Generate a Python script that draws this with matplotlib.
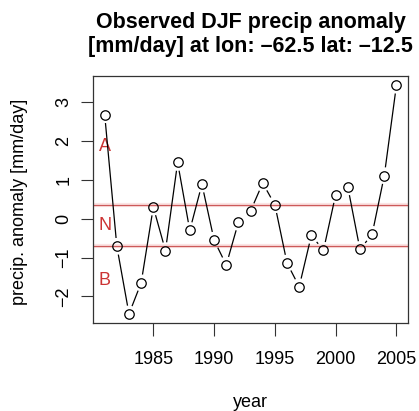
import numpy as np
import matplotlib
matplotlib.use("Agg")
import matplotlib.pyplot as plt

plt.rcParams["font.family"] = ["Liberation Sans", "DejaVu Sans"]

# observed DJF precipitation anomaly [mm/day]
years = np.arange(1981, 2006)
anomaly = [2.68, -0.71, -2.45, -1.65, 0.30, -0.82, 1.45, -0.30, 0.89, -0.55,
           -1.19, -0.09, 0.20, 0.92, 0.36, -1.14, -1.75, -0.43, -0.81, 0.62,
           0.82, -0.79, -0.40, 1.11, 3.44]

# tercile boundaries
upper_tercile = 0.36
lower_tercile = -0.71
cat_labels = ["A", "N", "B"]
cat_values = [1.87, -0.18, -1.60]

fig = plt.figure(figsize=(4.19, 4.11), dpi=100)
ax = fig.add_axes([0.222, 0.214, 0.752, 0.601])

# R style 4% range expansion
span_x = years[-1] - years[0]
ax.set_xlim(years[0] - 0.04 * span_x, years[-1] + 0.04 * span_x)
span_y = max(anomaly) - min(anomaly)
ax.set_ylim(min(anomaly) - 0.04 * span_y, max(anomaly) + 0.04 * span_y)

for yv in (upper_tercile, lower_tercile):
    ax.axhline(yv, color="#fbe4e4", linewidth=3.0, zorder=1)
    ax.axhline(yv, color="#cc5a5a", linewidth=0.9, zorder=2)

for lab, yv in zip(cat_labels, cat_values):
    ax.text(years[0], yv, lab, color="#cc3333", fontsize=13,
            ha="center", va="center", zorder=3)

# type = "b": segments with gaps around the points
fig.canvas.draw()
pts = ax.transData.transform(np.column_stack([years, anomaly]))
gap = 9.0
inv = ax.transData.inverted()
for p0, p1 in zip(pts[:-1], pts[1:]):
    d = p1 - p0
    dist = np.hypot(*d)
    if dist <= 2 * gap:
        continue
    u = d / dist
    seg = inv.transform(np.array([p0 + u * gap, p1 - u * gap]))
    ax.plot(seg[:, 0], seg[:, 1], color="black", linewidth=0.9, zorder=4)

ax.plot(years, anomaly, linestyle="none", marker="o", markersize=6.8,
        markerfacecolor="none", markeredgecolor="black", markeredgewidth=0.9,
        zorder=5)

ax.set_xticks([1985, 1990, 1995, 2000, 2005])
ax.set_yticks([-2, -1, 0, 1, 2, 3])
ax.tick_params(axis="both", direction="out", length=9, width=0.8,
               labelsize=13, color="#333333")
ax.tick_params(axis="x", pad=11)
ax.tick_params(axis="y", pad=6)
ax.set_yticklabels(["\u22122", "\u22121", "0", "1", "2", "3"], rotation=90,
                   va="center")
for s in ax.spines.values():
    s.set_linewidth(0.9)
    s.set_color("#333333")

ax.set_xlabel("year", fontsize=13, va="center")
ax.xaxis.set_label_coords(0.5, -0.32)
ax.set_ylabel("precip. anomaly [mm/day]", fontsize=13, va="center")
ax.yaxis.set_label_coords(-0.232, 0.49)

ax.set_title("Observed DJF precip anomaly\n[mm/day] at lon: \u201362.5 lat: \u201312.5",
             fontsize=15.5, fontweight="bold", linespacing=1.2, pad=17)

plt.savefig("out.png", dpi=100)
plt.close()
